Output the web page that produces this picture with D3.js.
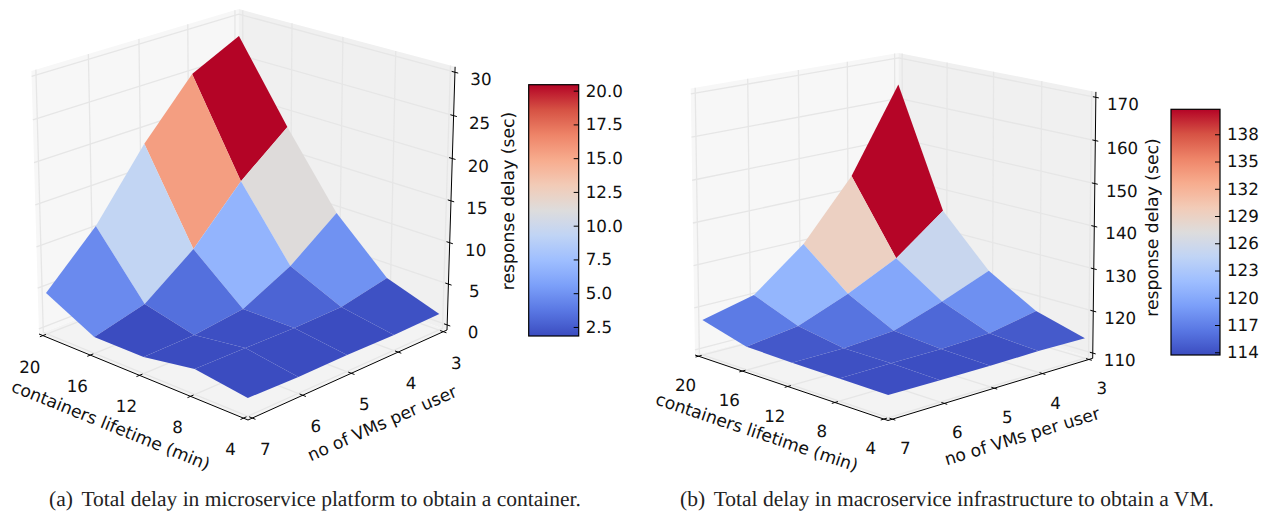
<!DOCTYPE html>
<html>
<head>
<meta charset="utf-8">
<script src="https://cdn.jsdelivr.net/npm/d3@7"></script>
<style>
body { margin: 0; background: #fff; }
text { font-family: "DejaVu Sans"; fill: #111; text-rendering: geometricPrecision; }
.caption { font-family: "Liberation Serif"; fill: #222; }
</style>
</head>
<body>
<svg id="chart" width="1266" height="516"></svg>
<script>
// data
var lifetimes = [4, 8, 12, 16, 20];
var vmsPerUser = [7, 6, 5, 4, 3];
// rows follow vmsPerUser, columns follow lifetimes
var microDelay = [
    [1.48, 2.37, 1.35, 1.36, 4.39],
    [1.31, 2.30, 1.48, 2.93, 10.28],
    [1.35, 2.20, 2.20, 7.34, 18.2],
    [1.25, 2.33, 5.13, 13.5, 24.75],
    [1.35, 3.53, 9.46, 18.15, 27.6]
];
var macroDelay = [
    [113.8, 113.9, 113.95, 114.2, 117.1],
    [113.7, 114.0, 114.0, 115.9, 120.0],
    [113.6, 114.0, 114.9, 120.5, 129.5],
    [113.75, 114.5, 118.8, 126.2, 143.5],
    [113.5, 116.7, 123.3, 135.1, 163.8]
];
var microZTicks = [0, 5, 10, 15, 20, 25, 30];
var macroZTicks = [110, 120, 130, 140, 150, 160, 170];
var microBarTicks = [2.5, 5, 7.5, 10, 12.5, 15, 17.5, 20];
var macroBarTicks = [114, 117, 120, 123, 126, 129, 132, 135, 138];
var xLabel = 'containers lifetime (min)';
var yLabel = 'no of VMs per user';
var zLabel = 'response delay (sec)';

// coolwarm colormap
var coolwarmStops = ['#3b4cc0', '#5977e3', '#7b9ff9', '#9ebeff', '#c0d4f5', '#dddcdc', '#f2cbb7', '#f7ac8e', '#ee8468', '#d65244', '#b40426'];
var coolwarm = d3.scaleLinear()
    .domain(d3.range(11).map(function (i) { return i / 10; }))
    .range(coolwarmStops)
    .clamp(true);

var svg = d3.select('#chart');
var inset = 0.02;   // mplot3d draws its box a little outside the limits
var tickFont = 16.7;
var titleFont = 17.2;

var panels = [{
    id: 'a', delay: microDelay, zDomain: [0, 30], zTicks: microZTicks,
    // screen position of the box corners: near, along x, along y, along z
    near: [248, 420], alongX: [39, 334], alongY: [447, 330], alongZ: [248.5, 138.6],
    persp: [0.08, 0.08, -0.04],
    xOff: [-13, 31], yOff: [13, 31], zOff: [26, 7],
    xTitle: [111, 425, 22], yTitle: [382, 423, -24], zTitle: [508, 201],
    surfaceDomain: [1.9, 21],
    barDomain: [1.83, 20.44], barTicks: microBarTicks, barFormat: d3.format('.1f'),
    bar: [528.7, 84.7, 50, 251.3],
    caption: '(a)\u2009\u2009Total delay in microservice platform to obtain a container.', captionX: 49
}, {
    id: 'b', delay: macroDelay, zDomain: [110, 170], zTicks: macroZTicks,
    near: [888, 420.5], alongX: [695, 355], alongY: [1092.7, 358.3], alongZ: [887.3, 133.6],
    persp: [0.08, 0.08, -0.02],
    xOff: [-13, 29], yOff: [13, 29], zOff: [27, 7],
    xTitle: [757, 432, 18.6], yTitle: [1022, 436, -17], zTitle: [1152, 227.5],
    surfaceDomain: [113.7, 142.2],
    barDomain: [113.7, 140.75], barTicks: macroBarTicks, barFormat: d3.format('d'),
    bar: [1171, 109.3, 49, 245.7],
    caption: '(b)\u2009\u2009Total delay in macroservice infrastructure to obtain a VM.', captionX: 680
}];

panels.forEach(drawPanel);

function drawPanel(p) {
    var g = svg.append('g').attr('id', 'panel-' + p.id);

    var xScale = d3.scaleLinear().domain([4, 20]).range([inset, 1 - inset]);
    var yScale = d3.scaleLinear().domain([7, 3]).range([inset, 1 - inset]);
    var zScale = d3.scaleLinear().domain(p.zDomain).range([inset, 1 - inset]);
    var colorScale = d3.scaleLinear().domain(p.surfaceDomain).range([0, 1]);

    // projective map of the unit box onto the page
    function project(u, v, w) {
        var a = p.persp[0], b = p.persp[1], c = p.persp[2];
        var d = 1 + a * u + b * v + c * w;
        return [0, 1].map(function (k) {
            return (p.near[k]
                + u * ((1 + a) * p.alongX[k] - p.near[k])
                + v * ((1 + b) * p.alongY[k] - p.near[k])
                + w * ((1 + c) * p.alongZ[k] - p.near[k])) / d;
        });
    }
    var line = d3.line();
    function path3d(points, closed) {
        return line(points.map(function (q) { return project(q[0], q[1], q[2]); })) + (closed ? 'Z' : '');
    }

    // panes
    var panes = [
        { c: '#f3f3f3', pts: [[0, 0, 0], [1, 0, 0], [1, 1, 0], [0, 1, 0]] },
        { c: '#f7f7f7', pts: [[1, 0, 0], [1, 1, 0], [1, 1, 1], [1, 0, 1]] },
        { c: '#f0f0f0', pts: [[0, 1, 0], [1, 1, 0], [1, 1, 1], [0, 1, 1]] }
    ];
    g.selectAll('path.pane').data(panes).enter().append('path')
        .attr('class', 'pane')
        .attr('d', function (d) { return path3d(d.pts, true); })
        .attr('fill', function (d) { return d.c; });

    // grid lines
    var grid = [];
    lifetimes.forEach(function (t) {
        var u = xScale(t);
        grid.push([[u, 0, 0], [u, 1, 0], [u, 1, 1]]);
    });
    vmsPerUser.forEach(function (t) {
        var v = yScale(t);
        grid.push([[0, v, 0], [1, v, 0], [1, v, 1]]);
    });
    p.zTicks.forEach(function (t) {
        var w = zScale(t);
        grid.push([[0, 1, w], [1, 1, w], [1, 0, w]]);
    });
    g.selectAll('path.grid').data(grid).enter().append('path')
        .attr('class', 'grid')
        .attr('d', function (d) { return path3d(d, false); })
        .attr('fill', 'none')
        .attr('stroke', '#e6e6e6')
        .attr('stroke-width', 1.3);

    // axis lines
    var axes = [
        [[0, 0, 0], [1, 0, 0]],
        [[0, 0, 0], [0, 1, 0]],
        [[0, 1, 0], [0, 1, 1]]
    ];
    g.selectAll('path.axis').data(axes).enter().append('path')
        .attr('class', 'axis')
        .attr('d', function (d) { return path3d(d, false); })
        .attr('stroke', '#000')
        .attr('stroke-width', 1);

    // ticks and labels
    var tickLen = 0.014;
    var ticks = [];
    lifetimes.forEach(function (t) {
        var u = xScale(t);
        ticks.push({ label: t, at: project(u, 0, 0), off: p.xOff, seg: [[u, -tickLen, 0], [u, tickLen, 0]] });
    });
    vmsPerUser.forEach(function (t) {
        var v = yScale(t);
        ticks.push({ label: t, at: project(0, v, 0), off: p.yOff, seg: [[-tickLen, v, 0], [tickLen, v, 0]] });
    });
    p.zTicks.forEach(function (t) {
        var w = zScale(t);
        ticks.push({ label: t, at: project(0, 1, w), off: p.zOff, seg: [[-tickLen, 1, w], [tickLen, 1, w]] });
    });
    g.selectAll('path.tick').data(ticks).enter().append('path')
        .attr('class', 'tick')
        .attr('d', function (d) { return path3d(d.seg, false); })
        .attr('stroke', '#000')
        .attr('stroke-width', 1);
    g.selectAll('text.tickLabel').data(ticks).enter().append('text')
        .attr('class', 'tickLabel')
        .attr('x', function (d) { return d.at[0] + d.off[0]; })
        .attr('y', function (d) { return d.at[1] + d.off[1]; })
        .attr('dy', '0.36em')
        .attr('text-anchor', 'middle')
        .attr('font-size', tickFont)
        .text(function (d) { return d.label; });

    // surface, far cells first
    var cells = [];
    vmsPerUser.slice(1).forEach(function (_, r) {
        lifetimes.slice(1).forEach(function (_, c) {
            var corners = [[r, c], [r, c + 1], [r + 1, c + 1], [r + 1, c]];
            cells.push({
                depth: r + c,
                mean: d3.mean(corners, function (k) { return p.delay[k[0]][k[1]]; }),
                pts: corners.map(function (k) {
                    return [xScale(lifetimes[k[1]]), yScale(vmsPerUser[k[0]]), zScale(p.delay[k[0]][k[1]])];
                })
            });
        });
    });
    cells.sort(function (m, n) { return n.depth - m.depth; });
    g.selectAll('path.cell').data(cells).enter().append('path')
        .attr('class', 'cell')
        .attr('d', function (d) { return path3d(d.pts, true); })
        .attr('fill', function (d) { return coolwarm(colorScale(d.mean)); });

    // axis titles
    g.append('text')
        .attr('transform', 'translate(' + p.xTitle[0] + ',' + p.xTitle[1] + ') rotate(' + p.xTitle[2] + ')')
        .attr('text-anchor', 'middle').attr('dy', '0.36em').attr('font-size', titleFont)
        .text(xLabel);
    g.append('text')
        .attr('transform', 'translate(' + p.yTitle[0] + ',' + p.yTitle[1] + ') rotate(' + p.yTitle[2] + ')')
        .attr('text-anchor', 'middle').attr('dy', '0.36em').attr('font-size', titleFont)
        .text(yLabel);
    g.append('text')
        .attr('transform', 'translate(' + p.zTitle[0] + ',' + p.zTitle[1] + ') rotate(-90)')
        .attr('text-anchor', 'middle').attr('dy', '0.36em').attr('font-size', titleFont)
        .text(zLabel);

    // colour bar
    var barX = p.bar[0], barY = p.bar[1], barW = p.bar[2], barH = p.bar[3];
    var gradId = 'bar-grad-' + p.id;
    var grad = svg.append('defs').append('linearGradient')
        .attr('id', gradId)
        .attr('x1', 0).attr('x2', 0).attr('y1', 1).attr('y2', 0);
    grad.selectAll('stop').data(d3.range(0, 1.0001, 0.05)).enter().append('stop')
        .attr('offset', function (d) { return d; })
        .attr('stop-color', function (d) { return coolwarm(d); });
    g.append('rect')
        .attr('x', barX).attr('y', barY).attr('width', barW).attr('height', barH)
        .attr('fill', 'url(#' + gradId + ')')
        .attr('stroke', '#000').attr('stroke-width', 1.2);
    var barScale = d3.scaleLinear().domain(p.barDomain).range([barY + barH, barY]);
    var barAxis = d3.axisRight(barScale)
        .tickValues(p.barTicks)
        .tickFormat(p.barFormat)
        .tickSize(-5)
        .tickPadding(7);
    var axisG = g.append('g')
        .attr('transform', 'translate(' + (barX + barW) + ',0)')
        .call(barAxis);
    axisG.select('.domain').remove();
    axisG.selectAll('text').attr('font-size', tickFont).attr('font-family', 'DejaVu Sans');

    // caption
    g.append('text')
        .attr('class', 'caption')
        .attr('x', p.captionX).attr('y', 506)
        .attr('font-size', 21.5)
        .text(p.caption);
}
</script>
</body>
</html>
